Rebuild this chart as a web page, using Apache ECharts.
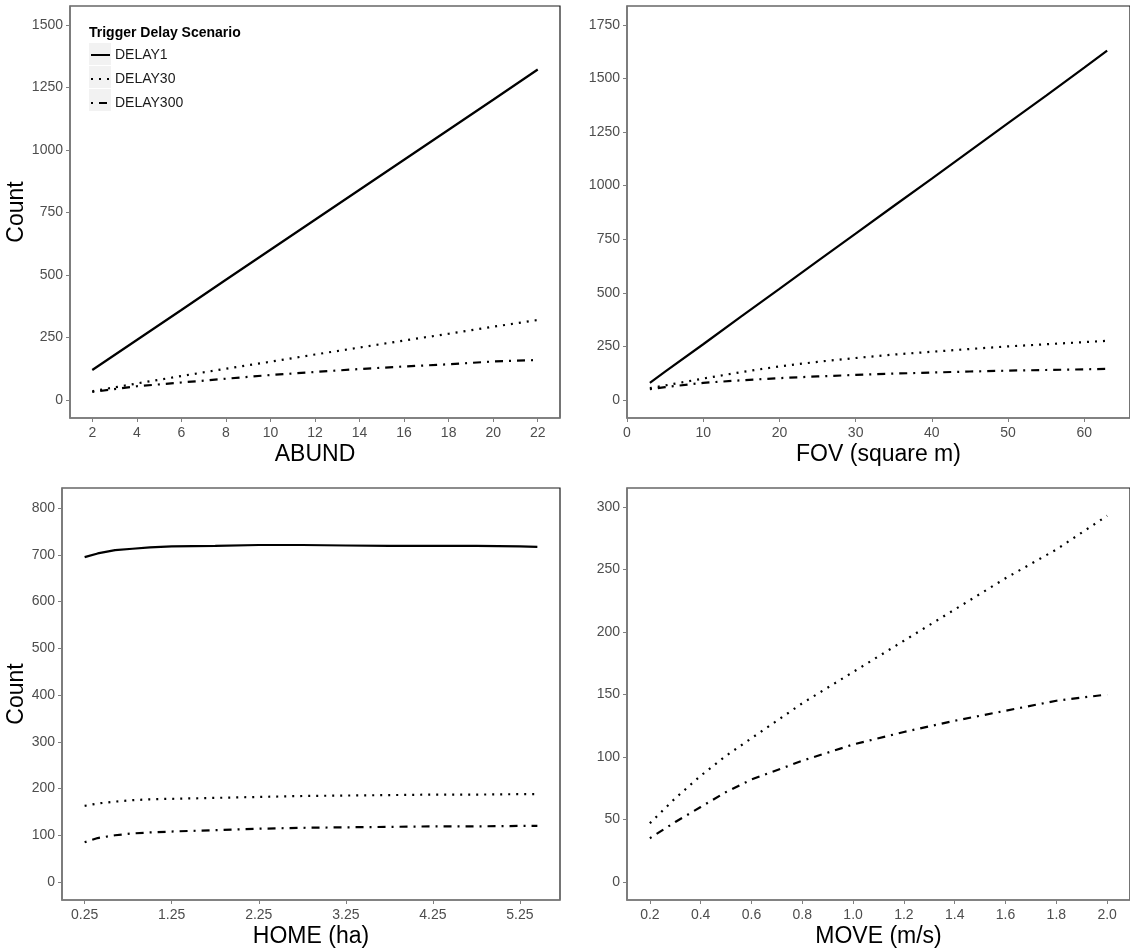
<!DOCTYPE html>
<html>
<head>
<meta charset="utf-8">
<script src="https://cdn.jsdelivr.net/npm/echarts@6/dist/echarts.min.js"></script>
<style>
html,body{margin:0;padding:0;background:#fff;}
#chart{width:1130px;height:951px;}
</style>
</head>
<body>
<div id="chart"></div>
<script>
// ---- Data ----
const seriesNames = ['DELAY1', 'DELAY30', 'DELAY300'];

// Panel 1: ABUND
const abundX = [2, 4, 6, 8, 10, 12, 14, 16, 18, 20, 22];
const abundDelay1 = [120, 240, 360, 481, 601, 721, 841, 961, 1081, 1201, 1322];
const abundDelay30 = [35, 66, 96, 125, 153, 182, 210, 238, 265, 293, 320];
const abundDelay300 = [32, 55, 70, 85, 100, 112, 124, 134, 143, 154, 160];
const abundTicks = [2, 4, 6, 8, 10, 12, 14, 16, 18, 20, 22];
const abundYTicks = [0, 250, 500, 750, 1000, 1250, 1500];

// Panel 2: FOV
const fovX = [3, 5, 10, 15, 20, 25, 30, 35, 40, 45, 50, 55, 60, 63];
const fovDelay1 = [80, 132, 260, 390, 518, 648, 776, 905, 1033, 1162, 1292, 1420, 1550, 1630];
const fovDelay30 = [55, 68, 100, 130, 157, 178, 196, 212, 225, 238, 250, 260, 270, 276];
const fovDelay300 = [50, 60, 80, 92, 102, 110, 117, 123, 128, 133, 137, 140, 143, 145];
const fovTicks = [0, 10, 20, 30, 40, 50, 60];
const fovYTicks = [0, 250, 500, 750, 1000, 1250, 1500, 1750];

// Panel 3: HOME
const homeX = [0.25, 0.4, 0.6, 0.8, 1.0, 1.25, 1.75, 2.25, 2.75, 3.25, 3.75, 4.25, 4.75, 5.25, 5.45];
const homeDelay1 = [695, 703, 710, 713, 716, 718, 719, 721, 721, 720, 719, 719, 719, 718, 717];
const homeDelay30 = [163, 168, 172, 175, 177, 178, 180, 182, 184, 185, 186, 187, 187, 188, 188];
const homeDelay300 = [85, 94, 100, 104, 106, 108, 111, 114, 116, 117, 118, 119, 119, 120, 120];
const homeTicks = [0.25, 1.25, 2.25, 3.25, 4.25, 5.25];
const homeYTicks = [0, 100, 200, 300, 400, 500, 600, 700, 800];

// Panel 4: MOVE
const moveX = [0.2, 0.3, 0.4, 0.5, 0.6, 0.8, 1.0, 1.2, 1.4, 1.6, 1.8, 2.0];
const moveDelay30 = [47, 67, 85, 101, 115, 143, 168, 193, 218, 243, 266, 293];
const moveDelay300 = [35, 48, 60, 72, 82, 97, 110, 120, 129, 137, 145, 150];
const moveTicks = [0.2, 0.4, 0.6, 0.8, 1.0, 1.2, 1.4, 1.6, 1.8, 2.0];
const moveYTicks = [0, 50, 100, 150, 200, 250, 300];

// ---- Helpers ----
function pairs(xs, ys) { return xs.map((x, i) => [x, ys[i]]); }

const FONT = '"Liberation Sans", Arial, sans-serif';
const lineStyles = {
  DELAY1: { color: '#000', width: 2.2, type: 'solid' },
  DELAY30: { color: '#000', width: 2.2, type: [2, 6], cap: 'butt' },
  DELAY300: { color: '#000', width: 2.2, type: [2, 6, 8, 6], cap: 'butt' }
};

function mkSeries(name, xs, ys, idx) {
  return {
    name: name, type: 'line', xAxisIndex: idx, yAxisIndex: idx,
    data: pairs(xs, ys), showSymbol: false, symbol: 'none', smooth: false,
    lineStyle: lineStyles[name], itemStyle: { color: '#000' },
    animation: false, z: 3
  };
}

function mkX(idx, name, min, max, ticks, decimals) {
  return {
    type: 'value', gridIndex: idx, min: min, max: max,
    name: name, nameLocation: 'middle', nameGap: 25,
    nameTextStyle: { fontFamily: FONT, fontSize: 23, color: '#000' },
    axisLine: { show: true, onZero: false, lineStyle: { color: '#7f7f7f', width: 1.6 } },
    axisTick: { show: true, length: 4, lineStyle: { color: '#7f7f7f', width: 1 }, customValues: ticks },
    axisLabel: { fontFamily: FONT, fontSize: 14, color: '#4d4d4d', margin: 8, customValues: ticks,
      formatter: v => decimals ? Number(v).toFixed(decimals) : String(v) },
    splitLine: { show: false }
  };
}

function mkY(idx, name, min, max, ticks, gap) {
  return {
    type: 'value', gridIndex: idx, min: min, max: max,
    name: name, nameLocation: 'middle', nameGap: gap, nameRotate: 90,
    nameTextStyle: { fontFamily: FONT, fontSize: 23, color: '#000' },
    axisLine: { show: true, onZero: false, lineStyle: { color: '#7f7f7f', width: 1.6 } },
    axisTick: { show: true, length: 4, lineStyle: { color: '#7f7f7f', width: 1 }, customValues: ticks },
    axisLabel: { fontFamily: FONT, fontSize: 14, color: '#4d4d4d', margin: 7, customValues: ticks,
      formatter: v => String(v) },
    splitLine: { show: false }
  };
}

const gridBase = { show: true, borderColor: '#1a1a1a', borderWidth: 1.2, backgroundColor: '#fff', containLabel: false };

const option = {
  animation: false,
  backgroundColor: '#fff',
  title: {
    text: 'Trigger Delay Scenario', left: 89, top: 26, padding: 0,
    textStyle: { fontFamily: FONT, fontSize: 14, fontWeight: 'bold', color: '#000' }
  },
  legend: {
    data: seriesNames, orient: 'vertical', left: 90, top: 48, padding: 0,
    itemWidth: 19, itemHeight: 14, itemGap: 10,
    itemStyle: { opacity: 0 },
    textStyle: { fontFamily: FONT, fontSize: 14, color: '#1a1a1a' },
    selectedMode: false
  },
  graphic: [
    { type: 'rect', left: 89, top: 43, shape: { width: 22, height: 22 }, style: { fill: '#f2f2f2' }, z: 1, silent: true },
    { type: 'rect', left: 89, top: 66, shape: { width: 22, height: 22 }, style: { fill: '#f2f2f2' }, z: 1, silent: true },
    { type: 'rect', left: 89, top: 89, shape: { width: 22, height: 22 }, style: { fill: '#f2f2f2' }, z: 1, silent: true }
  ],
  grid: [
    Object.assign({ left: 70, top: 6, width: 490, height: 412 }, gridBase),
    Object.assign({ left: 627, top: 6, width: 523, height: 412 }, gridBase),
    Object.assign({ left: 62, top: 488, width: 498, height: 412 }, gridBase),
    Object.assign({ left: 627, top: 488, width: 507, height: 412 }, gridBase)
  ],
  xAxis: [
    mkX(0, 'ABUND', 1, 23, abundTicks, 0),
    mkX(1, 'FOV (square m)', 0, 66, fovTicks, 0),
    mkX(2, 'HOME (ha)', -0.01, 5.71, homeTicks, 2),
    mkX(3, 'MOVE (m/s)', 0.11, 2.09, moveTicks, 1)
  ],
  yAxis: [
    mkY(0, 'Count', -72, 1576, abundYTicks, 38),
    mkY(1, '', -84, 1838, fovYTicks, 40),
    mkY(2, 'Count', -38.5, 843, homeYTicks, 31),
    mkY(3, '', -14.4, 315.2, moveYTicks, 40)
  ],
  series: [
    mkSeries('DELAY1', abundX, abundDelay1, 0),
    mkSeries('DELAY30', abundX, abundDelay30, 0),
    mkSeries('DELAY300', abundX, abundDelay300, 0),
    mkSeries('DELAY1', fovX, fovDelay1, 1),
    mkSeries('DELAY30', fovX, fovDelay30, 1),
    mkSeries('DELAY300', fovX, fovDelay300, 1),
    mkSeries('DELAY1', homeX, homeDelay1, 2),
    mkSeries('DELAY30', homeX, homeDelay30, 2),
    mkSeries('DELAY300', homeX, homeDelay300, 2),
    mkSeries('DELAY30', moveX, moveDelay30, 3),
    mkSeries('DELAY300', moveX, moveDelay300, 3)
  ]
};

const chart = echarts.init(document.getElementById('chart'), null, { renderer: 'canvas' });
chart.setOption(option);
</script>
</body>
</html>
